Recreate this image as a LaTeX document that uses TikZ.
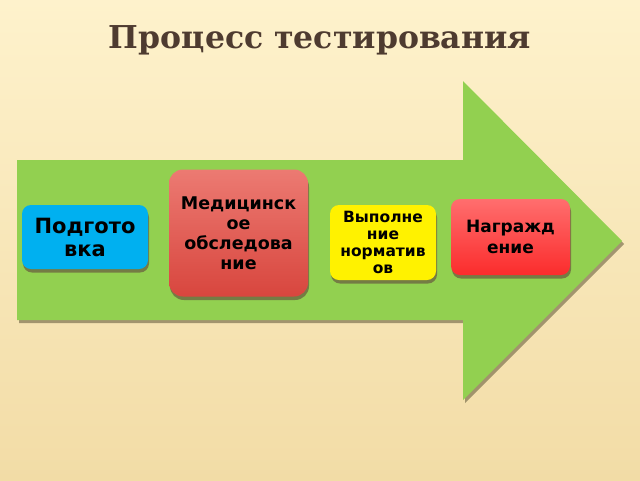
\documentclass[tikz,border=0pt]{standalone}
\usepackage{fontspec}
\usetikzlibrary{positioning,shadows}
\newfontfamily\titlefont{DejaVu Serif}
\newfontfamily\boxfont{DejaVu Sans}
\definecolor{bgtop}{HTML}{FEF2CC}
\definecolor{bgbot}{HTML}{F2DCA6}
\definecolor{arrowgreen}{HTML}{92D050}
\definecolor{titlebrown}{HTML}{4E3B30}
\definecolor{stepblue}{HTML}{00B0F0}
\definecolor{medtop}{HTML}{EC7A72}
\definecolor{medbot}{HTML}{D8463E}
\definecolor{awardtop}{HTML}{FF6E6E}
\definecolor{awardbot}{HTML}{FB2C2C}
\definecolor{shadowbrown}{HTML}{6B6040}
\tikzset{
stage/.style={rounded corners=9pt,align=center,inner sep=0pt,
drop shadow={shadow xshift=1pt,shadow yshift=-3.5pt,fill=shadowbrown,opacity=0.75}},
stagefont/.style n args={2}{font=\boxfont\bfseries\fontsize{#1}{#2}\selectfont},
}

\begin{document}
\begin{tikzpicture}[x=1pt,y=-1pt]
    \useasboundingbox (0,0) rectangle (640,480);
    \shade[top color=bgtop,bottom color=bgbot] (0,0) rectangle (640,480);

    \node[font=\titlefont\bfseries\fontsize{31.5}{36}\selectfont,text=titlebrown] (title) at (320,40) {Процесс тестирования};

    % arrow
    \fill[shadowbrown,opacity=0.6] (19,163) -- (465,163) -- (465,84) -- (624,244) -- (465,403) -- (465,323) -- (19,323) -- cycle;
    \fill[arrowgreen] (17,160) -- (463,160) -- (463,81) -- (622,241) -- (463,400) -- (463,320) -- (17,320) -- cycle;

    \node[stage,fill=stepblue,minimum width=126pt,minimum height=64pt,stagefont={21}{23}] (prep) at (85,237) {Подгото\\вка};
    \node[stage,top color=medtop,bottom color=medbot,minimum width=139pt,minimum height=127pt,stagefont={17.5}{20},rounded corners=14pt] (med) at (238.5,233) {Медицинск\\ое\\обследова\\ние};
    \node[stage,fill=yellow,minimum width=106pt,minimum height=75pt,stagefont={15.5}{17}] (norm) at (383,242.5) {Выполне\\ние\\норматив\\ов};
    \node[stage,top color=awardtop,bottom color=awardbot,minimum width=119pt,minimum height=76pt,stagefont={17}{21}] (award) at (510.5,237) {Награжд\\ение};
\end{tikzpicture}
\end{document}
